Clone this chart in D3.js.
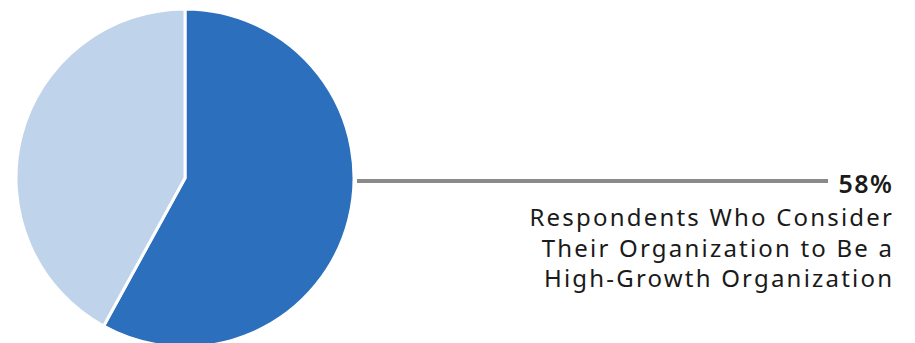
<!DOCTYPE html>
<html>
<head>
<meta charset="utf-8">
<script src="https://cdn.jsdelivr.net/npm/d3@7/dist/d3.min.js"></script>
<style>
  html, body { margin: 0; padding: 0; background: #ffffff; }
  svg { display: block; }
  text { font-family: "Noto Sans", sans-serif; fill: #1a1a1a; }
</style>
</head>
<body>
<svg id="chart" width="915" height="343"></svg>
<script>
// Share of respondents, in percent
const categories = ["High-growth organization", "Other"];
const values = [58, 42];
const colors = ["#2b6fbd", "#bfd3ea"];
const calloutValue = "58%";
const calloutLines = [
  "Respondents Who Consider",
  "Their Organization to Be a",
  "High-Growth Organization"
];

const svg = d3.select("#chart");
const cx = 185, cy = 178, radius = 169;

const pie = d3.pie().sort(null).value(d => d.value);
const arc = d3.arc().innerRadius(0).outerRadius(radius);
const data = categories.map((c, i) => ({ name: c, value: values[i] }));

const g = svg.append("g").attr("transform", `translate(${cx},${cy})`);
g.selectAll("path")
  .data(pie(data))
  .join("path")
  .attr("d", arc)
  .attr("fill", (d, i) => colors[i])
  .attr("stroke", "#ffffff")
  .attr("stroke-width", 3)
  .attr("stroke-linejoin", "miter");

// Leader line from the highlighted slice to its label
svg.append("line")
  .attr("x1", 357).attr("x2", 828)
  .attr("y1", 181).attr("y2", 181)
  .attr("stroke", "#8a8a8a")
  .attr("stroke-width", 4);

const labelX = 892;
const valueSpacing = 1.5;
svg.append("text")
  .attr("x", labelX + valueSpacing).attr("y", 193)
  .attr("text-anchor", "end")
  .attr("font-size", 25)
  .attr("font-weight", 600)
  .attr("letter-spacing", valueSpacing)
  .text(calloutValue);

const bodySpacing = 2.2;
svg.append("g")
  .selectAll("text")
  .data(calloutLines)
  .join("text")
  .attr("x", labelX + bodySpacing)
  .attr("y", (d, i) => 226 + i * 30.5)
  .attr("text-anchor", "end")
  .attr("font-size", 24)
  .attr("font-weight", 400)
  .attr("letter-spacing", bodySpacing)
  .text(d => d);
</script>
</body>
</html>
